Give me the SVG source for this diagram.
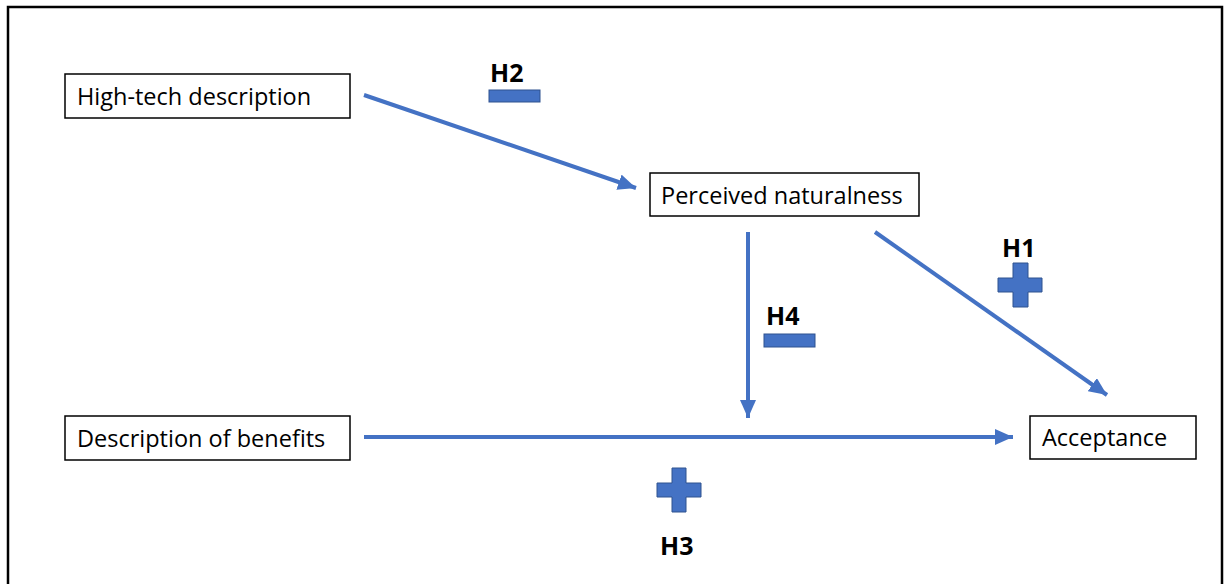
<svg xmlns="http://www.w3.org/2000/svg" width="1227" height="584" viewBox="0 0 1227 584">
<style>
.box{fill:#fff;stroke:#000;stroke-width:1.5}
.lbl{font-family:"Open Sans","Liberation Sans",sans-serif;font-size:23.5px;fill:#000}
.h{font-family:"Open Sans","Liberation Sans",sans-serif;font-size:25px;font-weight:bold;fill:#000}
.sign{fill:#4472C4;stroke:#2F528F;stroke-width:1}
.conn{stroke:#4472C4;stroke-width:4;fill:none;marker-end:url(#ah)}
</style>
<defs>
<marker id="ah" markerUnits="userSpaceOnUse" markerWidth="20" markerHeight="16" refX="18" refY="8" orient="auto">
<path d="M0,0 L18,8 L0,16 Z" fill="#4472C4"/>
</marker>
</defs>
<rect x="0" y="0" width="1227" height="584" fill="#fff"/>
<path d="M8,590 L8,7 L1222,7 L1222,590" fill="none" stroke="#000" stroke-width="2.5"/>
<g id="connectors">
<line class="conn" x1="364" y1="95" x2="636" y2="188"/>
<line class="conn" x1="748" y1="232" x2="748" y2="418"/>
<line class="conn" x1="875" y1="232" x2="1107" y2="395"/>
<line class="conn" x1="364" y1="437" x2="1013" y2="437"/>
</g>
<g id="node-hightech">
<rect class="box" x="65" y="74" width="285" height="44"/>
<text class="lbl" x="77" y="105">High-tech description</text>
</g>
<g id="node-naturalness">
<rect class="box" x="650" y="173" width="269" height="43"/>
<text class="lbl" x="661" y="204">Perceived naturalness</text>
</g>
<g id="node-benefits">
<rect class="box" x="65" y="416" width="285" height="44"/>
<text class="lbl" x="77" y="447">Description of benefits</text>
</g>
<g id="node-acceptance">
<rect class="box" x="1030" y="416" width="166" height="43"/>
<text class="lbl" x="1042" y="446">Acceptance</text>
</g>
<g id="h2">
<text class="h" x="490" y="82">H2</text>
<rect class="sign" x="489" y="90" width="51" height="12"/>
</g>
<g id="h1">
<text class="h" x="1002" y="257">H1</text>
<path class="sign" d="M1013,263 H1028 V278 H1042 V292 H1028 V307 H1013 V292 H998 V278 H1013 Z"/>
</g>
<g id="h4">
<text class="h" x="766" y="325">H4</text>
<rect class="sign" x="764" y="334" width="51" height="13"/>
</g>
<g id="h3">
<path class="sign" d="M672,468 H686 V483 H701 V497 H686 V512 H672 V497 H657 V483 H672 Z"/>
<text class="h" x="660" y="555">H3</text>
</g>
</svg>
